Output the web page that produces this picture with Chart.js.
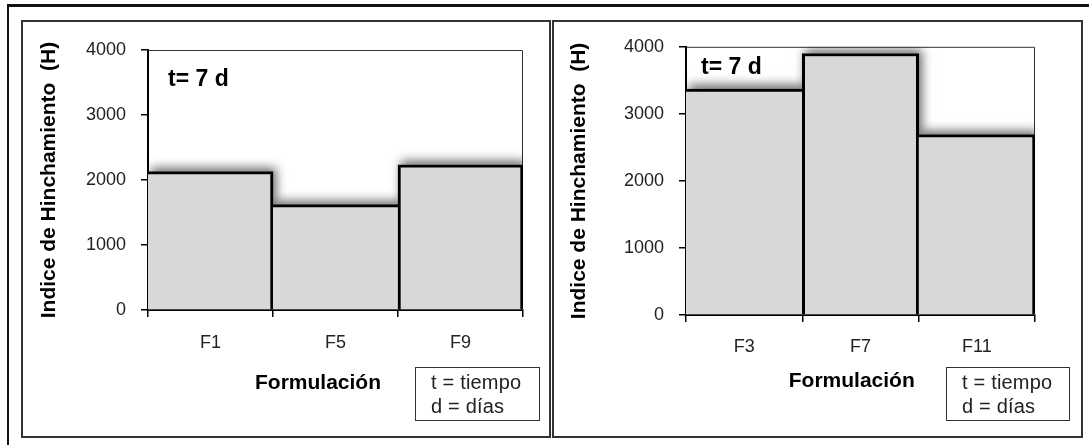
<!DOCTYPE html>
<html>
<head>
<meta charset="utf-8">
<script src="https://cdn.jsdelivr.net/npm/chart.js@4.4.1/dist/chart.umd.min.js"></script>
<style>
html,body{margin:0;padding:0;background:#fff;}
body{width:1089px;height:445px;position:relative;overflow:hidden;font-family:"Liberation Sans",Arial,sans-serif;}
.frameTop{position:absolute;left:7px;top:4px;width:1082px;height:3px;background:#111;}
.frameLeft{position:absolute;left:7px;top:4px;width:2px;height:441px;background:#111;}
.panel{position:absolute;top:20px;height:418px;border:2px solid #333;box-sizing:border-box;}
.chartbox{position:absolute;top:21px;height:416px;}
.note{position:absolute;top:367px;height:54px;border:1.5px solid #333;box-sizing:border-box;font-size:20px;color:#222;line-height:24px;padding:2px 0 0 15px;white-space:nowrap;letter-spacing:0.2px;}
</style>
</head>
<body>
<div class="frameTop"></div><div class="frameLeft"></div>
<div class="panel" style="left:21px;width:530px"></div>
<div class="panel" style="left:552px;width:531px"></div>
<div class="chartbox" style="left:22px;width:528px"><canvas id="c1" width="528" height="416"></canvas></div>
<div class="chartbox" style="left:553px;width:529px"><canvas id="c2" width="529" height="416"></canvas></div>
<div class="note" style="left:415px;width:125px">t = tiempo<br>d = días</div>
<div class="note" style="left:946px;width:124px">t = tiempo<br>d = días</div>
<script>
// ---- data ----
const leftCategories = ['F1', 'F5', 'F9'];
const leftValues = [2130, 1620, 2235];
const rightCategories = ['F3', 'F7', 'F11'];
const rightValues = [3370, 3900, 2690];
const yTickValues = [0, 1000, 2000, 3000, 4000];
const yAxisTitle = 'Indice de Hinchamiento  (H)';
const xAxisTitle = 'Formulación';
const timeNote = 't= 7 d';

const FONT = "'Liberation Sans', Arial, sans-serif";
const BAR_FILL = '#d8d8d8';

// soft shadow behind the bars, using the bar elements laid out by Chart.js
const shadowPlugin = {
  id: 'barShadow',
  beforeDatasetsDraw(chart) {
    const {ctx, chartArea: a} = chart;
    ctx.save();
    ctx.beginPath();
    ctx.rect(a.left, a.top, a.right - a.left, a.bottom - a.top);
    ctx.clip();
    ctx.shadowColor = 'rgba(0,0,0,0.6)';
    ctx.shadowBlur = 10;
    ctx.shadowOffsetX = 3;
    ctx.shadowOffsetY = -4;
    ctx.fillStyle = BAR_FILL;
    chart.getDatasetMeta(0).data.forEach(bar => {
      const p = bar.getProps(['x', 'y', 'base', 'width'], true);
      ctx.fillRect(p.x - p.width / 2, p.y, p.width, p.base - p.y);
    });
    ctx.restore();
  }
};

// thin frame on top and right of the plot area
const framePlugin = {
  id: 'plotFrame',
  beforeDatasetsDraw(chart) {
    const {ctx, chartArea: a} = chart;
    ctx.save();
    ctx.strokeStyle = '#333';
    ctx.lineWidth = 1;
    ctx.beginPath();
    ctx.moveTo(a.left, a.top + 0.5);
    ctx.lineTo(a.right - 0.5, a.top + 0.5);
    ctx.lineTo(a.right - 0.5, a.bottom);
    ctx.stroke();
    ctx.restore();
  }
};

// "t= 7 d" annotation inside the plot
const notePlugin = {
  id: 'timeNote',
  afterDraw(chart, args, opts) {
    const {ctx, chartArea: a} = chart;
    ctx.save();
    ctx.font = "bold 23px " + FONT;
    ctx.fillStyle = '#000';
    ctx.textBaseline = 'middle';
    ctx.textAlign = 'left';
    ctx.fillText(opts.text, a.left + opts.dx, a.top + opts.dy);
    ctx.restore();
  }
};

function borderFor(values) {
  return (ctx) => {
    const i = ctx.dataIndex, d = values, n = d.length;
    const left = i === 0 ? 0 : (d[i] >= d[i - 1] ? 3 : 0);
    const right = i === n - 1 ? 3 : (d[i] > d[i + 1] ? 3 : 0);
    return {top: 3, left: left, right: right, bottom: 0};
  };
}

function makeChart(id, cats, vals, L) {
  return new Chart(document.getElementById(id), {
    type: 'bar',
    data: {
      labels: cats,
      datasets: [{
        data: vals,
        backgroundColor: BAR_FILL,
        borderColor: '#000',
        borderWidth: borderFor(vals),
        borderSkipped: false,
        barPercentage: 1,
        categoryPercentage: 1,
        clip: 0
      }]
    },
    options: {
      responsive: false,
      animation: false,
      events: [],
      layout: {padding: {left: 0, top: L.padTop, right: L.padRight, bottom: 0}},
      plugins: {
        legend: {display: false},
        tooltip: {enabled: false},
        title: {display: false},
        timeNote: {text: timeNote, dx: L.noteDx, dy: L.noteDy}
      },
      scales: {
        x: {
          offset: true,
          grid: {display: true, drawOnChartArea: false, drawTicks: true, tickLength: 7, color: '#000', lineWidth: 1.5, offset: true},
          border: {display: true, color: '#000', width: 2},
          ticks: {color: '#222', font: {family: FONT, size: 18}, padding: L.xTickPad, maxRotation: 0},
          title: {display: true, text: xAxisTitle + '\u00A0'.repeat(L.xNudge), color: '#000', font: {family: FONT, size: 21, weight: 'bold'}, padding: {top: 0, bottom: L.xTitlePad}},
          afterFit(s) { s.height = L.xAxisH; }
        },
        y: {
          min: 0,
          max: 4000,
          afterBuildTicks(s) { s.ticks = yTickValues.map(v => ({value: v})); },
          grid: {display: true, drawOnChartArea: false, drawTicks: true, tickLength: 7, color: '#000', lineWidth: 1.5},
          border: {display: true, color: '#000', width: 2},
          ticks: {color: '#222', font: {family: FONT, size: 18}, padding: L.yTickPad, callback: v => String(v)},
          title: {display: true, text: yAxisTitle, color: '#000', font: {family: FONT, size: 21, weight: 'bold'}, padding: {top: L.yTitlePad, bottom: 0}},
          afterFit(s) { s.width = L.yAxisW; }
        }
      }
    },
    plugins: [framePlugin, shadowPlugin, notePlugin]
  });
}

makeChart('c1', leftCategories, leftValues, {
  padTop: 29, padRight: 27, yAxisW: 126, xAxisH: 127,
  yTitlePad: 15, xTitlePad: 41, xTickPad: 15, yTickPad: 15,
  noteDx: 20, noteDy: 30, xNudge: 6
});
makeChart('c2', rightCategories, rightValues, {
  padTop: 25, padRight: 47, yAxisW: 133, xAxisH: 122,
  yTitlePad: 14, xTitlePad: 43, xTickPad: 14, yTickPad: 15,
  noteDx: 15, noteDy: 21, xNudge: 3
});
</script>
</body>
</html>
